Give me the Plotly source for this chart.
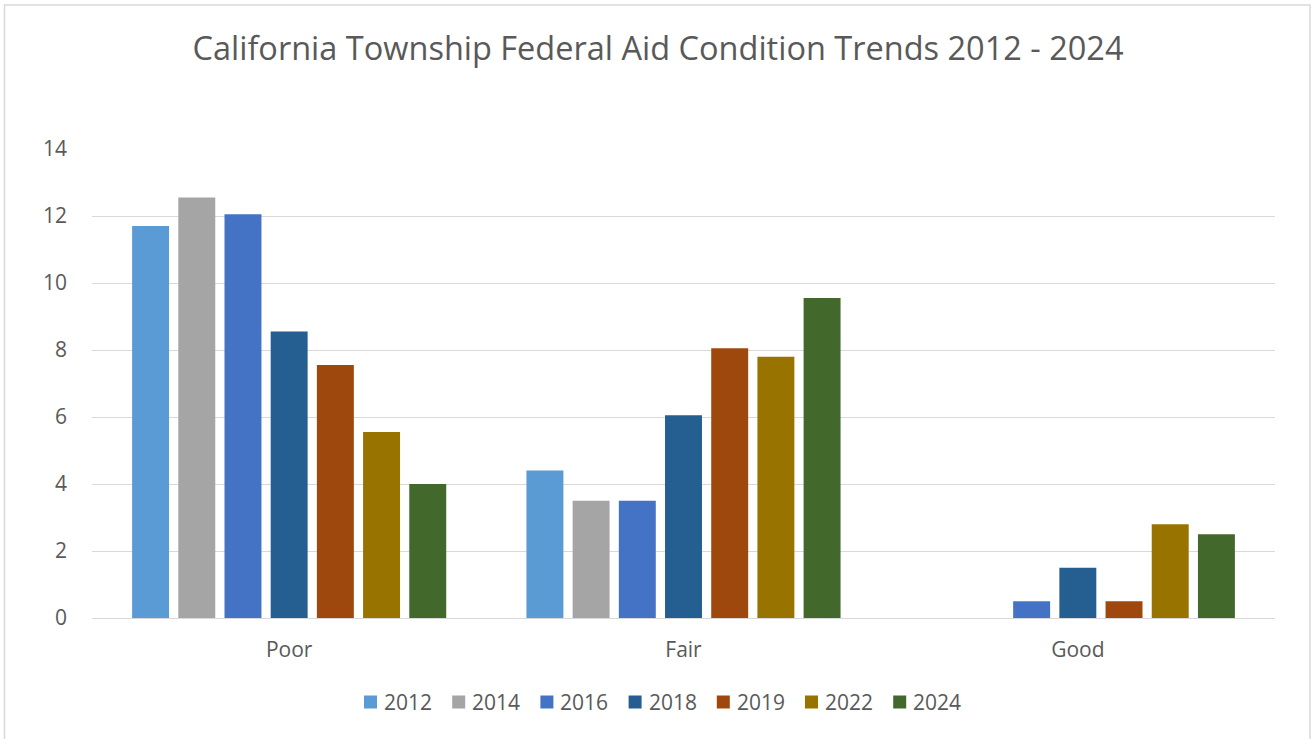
import plotly.graph_objects as go

categories = ["Poor", "Fair", "Good"]
years = ["2012", "2014", "2016", "2018", "2019", "2022", "2024"]
v2012 = [11.7, 4.4, 0]
v2014 = [12.55, 3.5, 0]
v2016 = [12.05, 3.5, 0.5]
v2018 = [8.55, 6.05, 1.5]
v2019 = [7.55, 8.05, 0.5]
v2022 = [5.55, 7.8, 2.8]
v2024 = [4.0, 9.55, 2.5]
series = [v2012, v2014, v2016, v2018, v2019, v2022, v2024]
colors = ["#5B9BD5", "#A5A5A5", "#4472C4", "#255E91", "#9E480E", "#997300", "#43682B"]

fig = go.Figure()
for name, vals, col in zip(years, series, colors):
    fig.add_trace(go.Bar(x=categories, y=vals, name=name, marker_color=col,
                         marker_line_width=0))

W, H = 1316, 739
L, R, T, B = 92, 41, 149, 121
pw, ph = W - L - R, H - T - B


def px_x(x):
    return (x - L) / pw


def px_y(y):
    return (H - B - y) / ph


# custom legend (swatch + label), laid out in pixels
shapes = [dict(type="rect", xref="paper", yref="paper",
               x0=px_x(4.5), x1=px_x(1310), y0=px_y(760), y1=px_y(5),
               line=dict(color="#D9D9D9", width=1.5), fillcolor="rgba(0,0,0,0)")]
annotations = []
leg_x0, leg_step, leg_y = 364, 88.2, 702
for i, (name, col) in enumerate(zip(years, colors)):
    sx = leg_x0 + i * leg_step
    shapes.append(dict(type="rect", xref="paper", yref="paper",
                       x0=px_x(sx), x1=px_x(sx + 13), y0=px_y(leg_y + 6.5), y1=px_y(leg_y - 6.5),
                       line=dict(width=0), fillcolor=col))
    annotations.append(dict(xref="paper", yref="paper", x=px_x(sx + 18), y=px_y(leg_y),
                            xanchor="left", yanchor="middle", showarrow=False, text=name,
                            font=dict(size=21, color="#595959")))

fig.update_layout(
    width=W, height=H,
    margin=dict(l=L, r=R, t=T, b=B),
    paper_bgcolor="white", plot_bgcolor="white",
    font=dict(family="Open Sans", color="#595959", size=21),
    title=dict(text="California Township Federal Aid Condition Trends 2012 - 2024",
               x=0.5, xanchor="center", y=1 - 49 / H, yanchor="middle",
               font=dict(size=32.5, color="#595959")),
    barmode="group", bargap=0.18, bargroupgap=0.2,
    showlegend=False,
    xaxis=dict(showgrid=False, showline=True, linecolor="#D9D9D9", linewidth=1.3,
               ticks="", ticklabelstandoff=13, tickfont=dict(size=21)),
    yaxis=dict(range=[0, 14], dtick=2, showgrid=True, gridcolor="#D9D9D9", gridwidth=1.3,
               zeroline=False, showline=False, ticks="", ticklabelstandoff=24,
               tickfont=dict(size=21)),
    shapes=shapes,
    annotations=annotations,
)

fig.write_html("out.html", config={"displayModeBar": False},
               post_script="document.body.style.margin='0';document.body.style.padding='0';")
